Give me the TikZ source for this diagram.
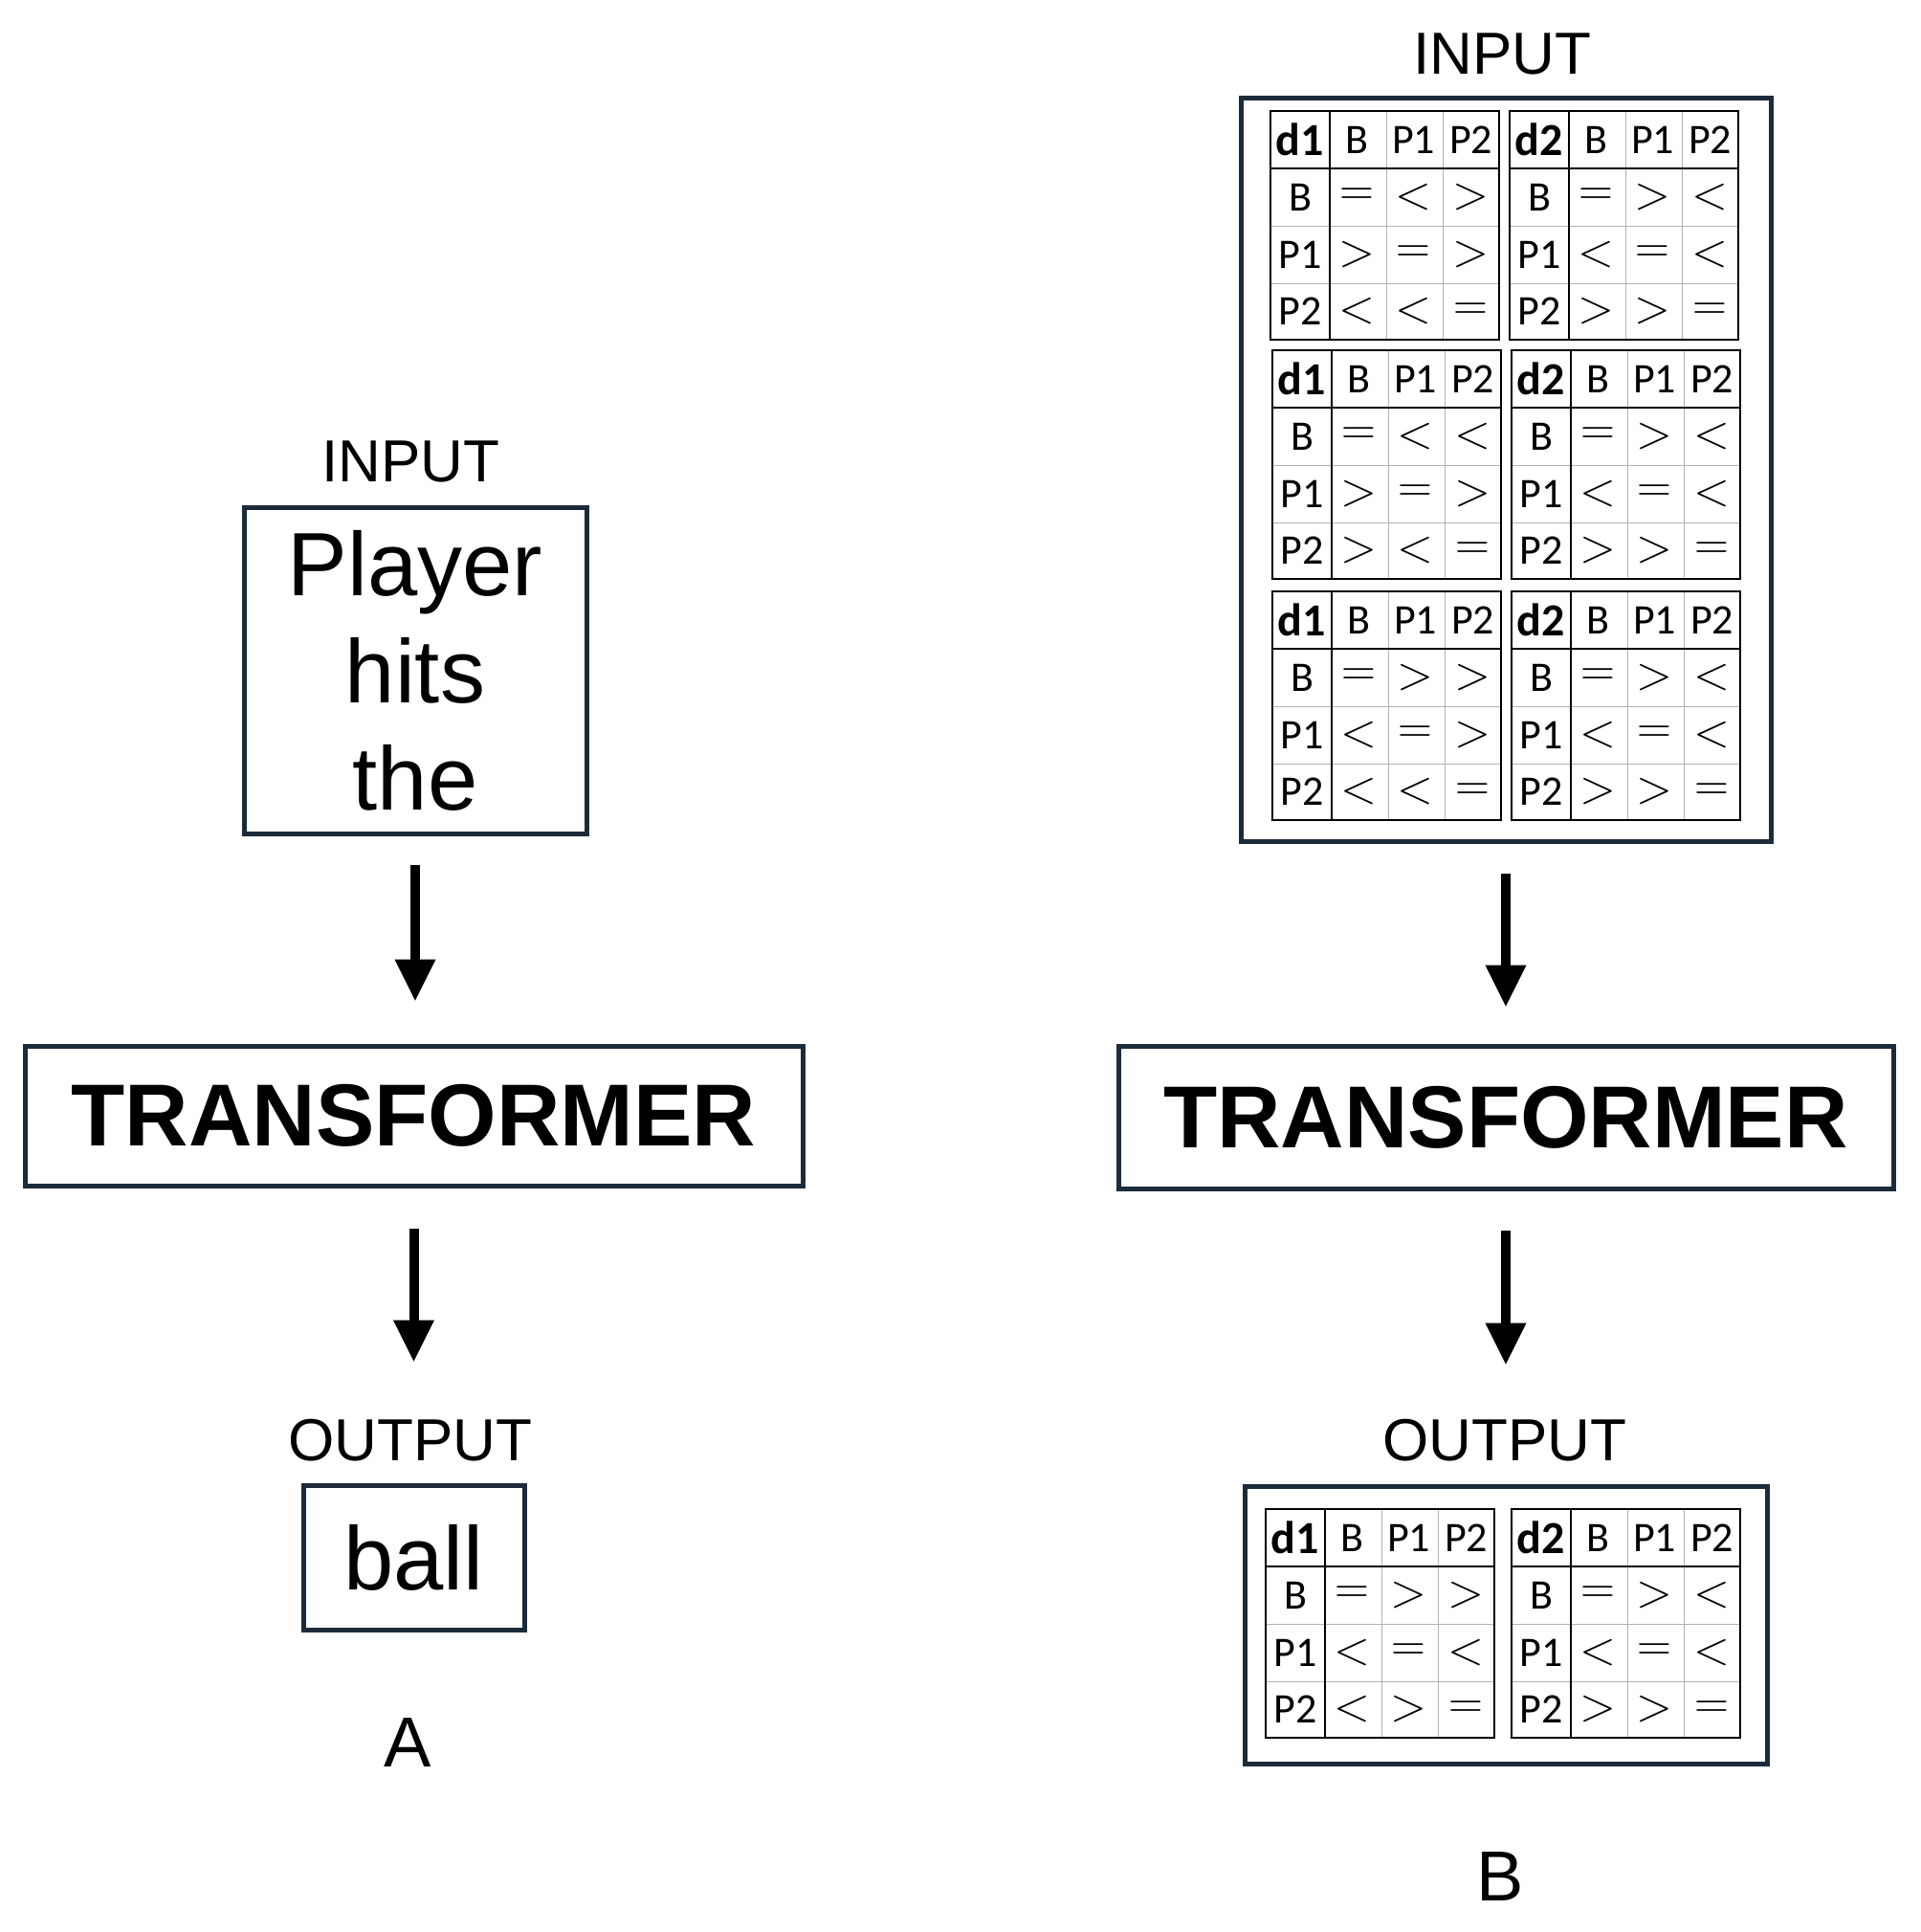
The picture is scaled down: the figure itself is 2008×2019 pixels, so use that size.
\documentclass[tikz,border=0pt]{standalone}
\usepackage{fontspec}
\setmainfont{Liberation Sans}
\newfontfamily\tf{Carlito}
\usetikzlibrary{arrows.meta}
\definecolor{navy}{HTML}{1C2B3A}
\tikzset{
 box/.style={draw=navy,line width=2.5pt,inner sep=0pt},
 lab/.style={font=\fontsize{31}{36}\selectfont},
 arr/.style={line width=5pt,-{Triangle[length=22pt,width=20pt]}},
 gridc/.style={draw=gray!60,line width=0.5pt},
 hd/.style={font=\tf\fontsize{22}{26}\selectfont,inner sep=0pt},
 sym/.style={font=\fontsize{44}{44}\selectfont,inner sep=0pt},
}
\def\trow#1#2#3#4{\node[sym] at (90.5,#1){$\boldmath#2$};\node[sym] at (149.5,#1){$\boldmath#3$};\node[sym] at (209.5,#1){$\boldmath#4$};}
\newcommand\gtbl[6]{%
\begin{scope}[shift={(#1,#2)}]
\draw[gridc] (121,0)--(121,239) (180,0)--(180,239) (0,120)--(239,120) (0,180)--(239,180);
\draw[line width=1pt] (0,60)--(239,60) (62,0)--(62,239);
\draw[line width=1.2pt] (0,0) rectangle (239,239);
\node[hd,font=\tf\bfseries\fontsize{24}{26}\selectfont] at (31,30){#3};
\node[hd] at (90.5,30){B};\node[hd] at (149.5,30){P1};\node[hd] at (209.5,30){P2};
\node[hd] at (31,90){B};\node[hd] at (31,150){P1};\node[hd] at (31,209.5){P2};
\trow{90}#4
\trow{150}#5
\trow{209.5}#6
\end{scope}}
\begin{document}
\begin{tikzpicture}[x=0.5pt,y=-0.5pt]
\useasboundingbox (0,0) rectangle (2008,2019);
% A side
\node[lab] (inlabA) at (429,482) {INPUT};
\node[box,minimum width=179pt,minimum height=170.5pt,align=center,font=\fontsize{47}{56}\selectfont] (inA) at (434,700.5) {Player\\hits\\the};
\node[box,minimum width=406.5pt,minimum height=73pt,font=\bfseries\fontsize{46}{50}\selectfont] (trA) at (432.5,1166) {TRANSFORMER};
\node[lab] (outlabA) at (429,1505) {OUTPUT};
\node[box,minimum width=115.5pt,minimum height=75.5pt,font=\fontsize{47}{56}\selectfont] (ballA) at (432.5,1627.5) {ball};
\node[font=\fontsize{37}{44}\selectfont] (capA) at (426,1821) {A};
\draw[arr,shorten <=15pt,shorten >=22pt] (inA.south) -- (inA.south |- trA.north);
\draw[arr,shorten <=21pt,shorten >=63pt] (trA.south) -- (ballA.north);
% B side
\node[lab] (inlabB) at (1570,56) {INPUT};
\node[box,minimum width=277pt,minimum height=388.5pt] (inB) at (1574,490.5) {};
\gtbl{1328}{116}{d1}{=<>}{>=>}{<<=}
\gtbl{1578}{116}{d2}{=><}{<=<}{>>=}
\gtbl{1330}{366}{d1}{=<<}{>=>}{><=}
\gtbl{1580}{366}{d2}{=><}{<=<}{>>=}
\gtbl{1330}{618}{d1}{=>>}{<=>}{<<=}
\gtbl{1580}{618}{d2}{=><}{<=<}{>>=}
\node[box,minimum width=405pt,minimum height=74.5pt,font=\bfseries\fontsize{46}{50}\selectfont] (trB) at (1574,1167.5) {TRANSFORMER};
\node[lab] (outlabB) at (1573,1505) {OUTPUT};
\node[box,minimum width=273pt,minimum height=145pt] (outB) at (1574,1698) {};
\gtbl{1323}{1577}{d1}{=>>}{<=<}{<>=}
\gtbl{1580}{1577}{d2}{=><}{<=<}{>>=}
\node[font=\fontsize{37}{44}\selectfont] (capB) at (1568,1961) {B};
\draw[arr,shorten <=15.5pt,shorten >=19pt] (inB.south) -- (trB.north);
\draw[arr,shorten <=20.5pt,shorten >=62pt] (trB.south) -- (outB.north);
\end{tikzpicture}
\end{document}
